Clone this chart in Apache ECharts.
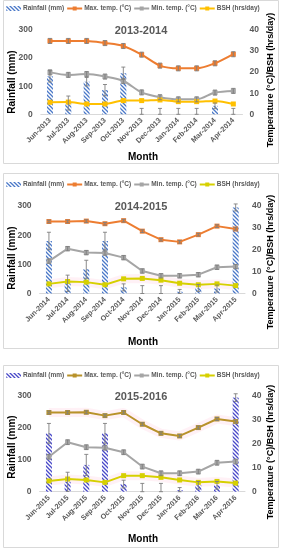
<!DOCTYPE html>
<html><head><meta charset="utf-8">
<script src="https://cdn.jsdelivr.net/npm/echarts@6/dist/echarts.min.js"></script>
<style>
html,body{margin:0;padding:0;background:#fff;width:282px;height:550px;overflow:hidden;}
.c{position:absolute;left:0;width:282px;}
</style></head><body>
<div id="c1" class="c" style="top:0;height:165px"></div>
<div id="c2" class="c" style="top:170px;height:180px"></div>
<div id="c3" class="c" style="top:360px;height:190px"></div>
<script>
// ---- data ----
const months1 = ['Jun-2013','Jul-2013','Aug-2013','Sep-2013','Oct-2013','Nov-2013','Dec-2013','Jan-2014','Feb-2014','Mar-2014','Apr-2014'];
const months2 = ['Jun-2014','Jul-2014','Aug-2014','Sep-2014','Oct-2014','Nov-2014','Dec-2014','Jan-2015','Feb-2015','Mar-2015','Apr-2015'];
const months3 = ['Jun-2015','Jul-2015','Aug-2015','Sep-2015','Oct-2015','Nov-2015','Dec-2015','Jan-2016','Feb-2016','Mar-2016','Apr-2016'];
const titles = ['2013-2014','2014-2015','2015-2016'];
const seriesNames = ['Rainfall (mm)','Max. temp. (°C)','Min. temp. (°C)','BSH (hrs/day)'];

const rain1 = [135, 40, 116, 86, 146, 0, 0, 0, 0, 30, 0];
const rainErr1 = [20, 25, 15, 20, 22, 21, 21, 21, 21, 10, 21];
const maxT1 = [34.8, 34.8, 34.8, 33.8, 32.4, 28.3, 23.1, 21.8, 21.8, 24.2, 28.5];
const maxErr1 = [1.2, 1.2, 1.2, 1.2, 1.2, 1.2, 1.2, 1.2, 1.2, 1.2, 1.2];
const minT1 = [19.9, 18.7, 19.1, 17.9, 15.8, 10.4, 8.1, 7.1, 7.1, 10.3, 11.1];
const minErr1 = [1.2, 1.2, 1.2, 1.2, 1.2, 1.2, 1.2, 1.2, 1.2, 1.2, 1.2];
const bsh1 = [5.7, 5.8, 4.9, 4.9, 6.5, 6.5, 6.8, 6.0, 6.0, 6.3, 4.9];

const rain2 = [180, 35, 83, 180, 21, 0, 0, 6, 19, 17, 295];
const rainErr2 = [30, 28, 31, 30, 12, 27, 27, 8, 12, 12, 12];
const maxT2 = [32.9, 32.9, 33.1, 31.9, 33.3, 28.5, 24.6, 23.6, 26.9, 30.8, 29.5];
const maxErr2 = [0.6, 0.6, 0.6, 0.6, 0.6, 0.6, 0.6, 0.6, 0.6, 0.6, 0.6];
const minT2 = [14.8, 20.5, 18.7, 18.5, 16.4, 10.3, 8.1, 8.1, 8.6, 12.0, 12.3];
const minErr2 = [1.0, 1.0, 1.0, 1.0, 1.0, 1.0, 1.0, 1.0, 1.0, 1.0, 1.0];
const bsh2 = [4.4, 5.5, 5.2, 4.0, 6.7, 6.9, 6.1, 4.7, 4.0, 4.4, 3.6];

const rain3 = [183, 31, 84, 183, 24, 0, 0, 5, 20, 20, 295];
const rainErr3 = [31, 30, 33, 31, 12, 26, 26, 8, 12, 12, 12];
const maxT3 = [33.1, 33.1, 33.2, 31.8, 33.1, 28.2, 24.4, 23.3, 26.8, 30.4, 29.3];
const maxErr3 = [0.6, 0.6, 0.6, 0.6, 0.6, 0.6, 0.6, 0.6, 0.6, 0.6, 0.6];
const minT3 = [14.6, 20.7, 18.6, 18.4, 16.5, 10.5, 7.7, 7.7, 8.4, 12.1, 12.6];
const minErr3 = [1.0, 1.0, 1.0, 1.0, 1.0, 1.0, 1.0, 1.0, 1.0, 1.0, 1.0];
const bsh3 = [4.5, 5.3, 4.9, 3.9, 6.7, 6.7, 6.0, 4.9, 3.9, 4.3, 3.6];

const leftTicks = [0, 100, 200, 300];
const rightTicks = [0, 10, 20, 30, 40];

// ---- helpers ----
const FONT = 'Liberation Sans, Arial, sans-serif';
const TXT = '#595959';

function hatch(color) {
  const c = document.createElement('canvas');
  c.width = 4; c.height = 4;
  const g = c.getContext('2d');
  g.fillStyle = '#ffffff'; g.fillRect(0, 0, 4, 4);
  g.strokeStyle = color; g.lineWidth = 1.3;
  g.beginPath();
  g.moveTo(-1, -1); g.lineTo(5, 5);
  g.moveTo(-1, 3); g.lineTo(1, 5);
  g.moveTo(3, -1); g.lineTo(5, 1);
  g.stroke();
  return c;
}

function errSeries(vals, errs, yAxisIndex, color) {
  return {
    type: 'custom', name: '_err', yAxisIndex: yAxisIndex, z: 6, silent: true,
    encode: { x: 0, y: [1, 2] },
    renderItem: function (params, api) {
      const x = api.value(0), lo = api.value(1), hi = api.value(2);
      const a = api.coord([x, hi]), b = api.coord([x, lo]);
      const w = 2;
      const st = { stroke: color, lineWidth: 0.9 };
      return { type: 'group', children: [
        { type: 'line', shape: { x1: a[0], y1: a[1], x2: b[0], y2: b[1] }, style: st },
        { type: 'line', shape: { x1: a[0] - w, y1: a[1], x2: a[0] + w, y2: a[1] }, style: st },
        { type: 'line', shape: { x1: b[0] - w, y1: b[1], x2: b[0] + w, y2: b[1] }, style: st }
      ]};
    },
    data: vals.map(function (v, i) { return [i, Math.max(0, v - errs[i]), v + errs[i]]; })
  };
}

function build(el, cfg) {
  const chart = echarts.init(document.getElementById(el), null, { renderer: 'canvas' });
  const series = [
    { name: seriesNames[0], type: 'bar', yAxisIndex: 0, barWidth: 6, z: 2,
      itemStyle: { color: { image: hatch(cfg.barColor), repeat: 'repeat' } }, data: cfg.rain },
    errSeries(cfg.rain, cfg.rainErr, 0, '#7f7f7f')
  ];
  (cfg.glow || []).forEach(function (d) {
    series.push({ name: '_glow', type: 'line', yAxisIndex: 1, data: d, symbol: 'none', silent: true, z: 1,
      smooth: cfg.smooth, lineStyle: { color: 'rgba(255,175,205,0.18)', width: 9 } });
  });
  series.push(
    { name: seriesNames[1], type: 'line', yAxisIndex: 1, data: cfg.maxT, smooth: cfg.smooth, z: 4,
      symbol: 'rect', symbolSize: 5, itemStyle: { color: cfg.maxColor }, lineStyle: { color: cfg.maxColor, width: 2 } },
    errSeries(cfg.maxT, cfg.maxErr, 1, '#7f7f7f'),
    { name: seriesNames[2], type: 'line', yAxisIndex: 1, data: cfg.minT, smooth: cfg.smooth, z: 4,
      symbol: 'rect', symbolSize: 5, itemStyle: { color: '#a5a5a5' }, lineStyle: { color: '#a5a5a5', width: 2 } },
    errSeries(cfg.minT, cfg.minErr, 1, '#7f7f7f'),
    { name: seriesNames[3], type: 'line', yAxisIndex: 1, data: cfg.bsh, smooth: cfg.smooth, z: 4,
      symbol: 'rect', symbolSize: 5, itemStyle: { color: cfg.bshColor }, lineStyle: { color: cfg.bshColor, width: 2 } }
  );
  const g = cfg.grid;
  chart.setOption({
    animation: false,
    textStyle: { fontFamily: FONT },
    title: { text: cfg.title, left: 'center', top: cfg.titleTop,
      textStyle: { fontFamily: FONT, fontSize: 11, fontWeight: 'bold', color: TXT } },
    legend: { data: seriesNames, top: cfg.legendTop, left: 6, itemWidth: 15, itemHeight: 5, itemGap: 2,
      padding: 0,
      textStyle: { fontFamily: FONT, fontSize: 6.5, fontWeight: 'bold', color: TXT, padding: [0, 0, 0, -3] } },
    grid: { left: g[0], right: g[1], top: g[2], bottom: g[3], containLabel: false },
    xAxis: { type: 'category', data: cfg.months,
      axisLine: { show: true, lineStyle: { color: '#d9d9d9' } }, axisTick: { show: false },
      axisLabel: { rotate: 45, interval: 0, fontSize: 7.3, fontWeight: 'bold', color: TXT, fontFamily: FONT, margin: 5 } },
    yAxis: [
      { type: 'value', min: leftTicks[0], max: leftTicks[leftTicks.length - 1], interval: 100,
        splitLine: { show: false }, axisLine: { show: false }, axisTick: { show: false },
        axisLabel: { fontSize: 8.5, fontWeight: 'bold', color: TXT, fontFamily: FONT, margin: 8 } },
      { type: 'value', min: rightTicks[0], max: rightTicks[rightTicks.length - 1], interval: 10, position: 'right',
        splitLine: { show: false }, axisLine: { show: false }, axisTick: { show: false },
        axisLabel: { fontSize: 8.5, fontWeight: 'bold', color: TXT, fontFamily: FONT, margin: 7 } }
    ],
    graphic: [
      { type: 'rect', shape: { x: 3.5, y: cfg.frame[0] + 0.5, width: 275, height: cfg.frame[1] },
        style: { fill: 'none', stroke: '#d9d9d9', lineWidth: 1 }, silent: true },
      { type: 'text', x: 12, y: cfg.leftNameY, rotation: Math.PI / 2,
        style: { text: 'Rainfall (mm)', fontFamily: FONT, fontSize: 10, fontWeight: 'bold', fill: '#000',
          textAlign: 'center', textVerticalAlign: 'middle' } },
      { type: 'text', x: 271, y: cfg.rightNameY, rotation: Math.PI / 2,
        style: { text: 'Temperature (°C)/BSH (hrs/day)', fontFamily: FONT, fontSize: 9, fontWeight: 'bold', fill: '#000',
          textAlign: 'center', textVerticalAlign: 'middle' } },
      { type: 'text', x: 143, y: cfg.monthY,
        style: { text: 'Month', fontFamily: FONT, fontSize: 10, fontWeight: 'bold', fill: '#000',
          textAlign: 'center', textVerticalAlign: 'middle' } }
    ],
    series: series
  });
}

build('c1', { months: months1, title: titles[0], rain: rain1, rainErr: rainErr1, maxT: maxT1, maxErr: maxErr1,
  minT: minT1, minErr: minErr1, bsh: bsh1, smooth: 0.3,
  barColor: '#4a78c8', maxColor: '#ed7d31', bshColor: '#ffc000',
  grid: [40.8, 39.5, 30, 50.7], titleTop: 20, legendTop: 5, frame: [0, 163],
  leftNameY: 82, rightNameY: 80, monthY: 157 });

build('c2', { months: months2, title: titles[1], rain: rain2, rainErr: rainErr2, maxT: maxT2, maxErr: maxErr2,
  minT: minT2, minErr: minErr2, bsh: bsh2, smooth: false,
  barColor: '#4a78c8', maxColor: '#ed7d31', bshColor: '#d6d000', glow: [bsh2],
  grid: [39.6, 37, 36, 56.5], titleTop: 26, legendTop: 11, frame: [3, 175],
  leftNameY: 88, rightNameY: 92, monthY: 172 });

build('c3', { months: months3, title: titles[2], rain: rain3, rainErr: rainErr3, maxT: maxT3, maxErr: maxErr3,
  minT: minT3, minErr: minErr3, bsh: bsh3, smooth: false,
  barColor: '#4848c8', maxColor: '#b8922a', bshColor: '#d6d000', glow: [maxT3, bsh3],
  grid: [39.6, 37, 36, 58.3], titleTop: 26, legendTop: 12, frame: [5, 182],
  leftNameY: 87, rightNameY: 92, monthY: 179 });
</script>
</body></html>
